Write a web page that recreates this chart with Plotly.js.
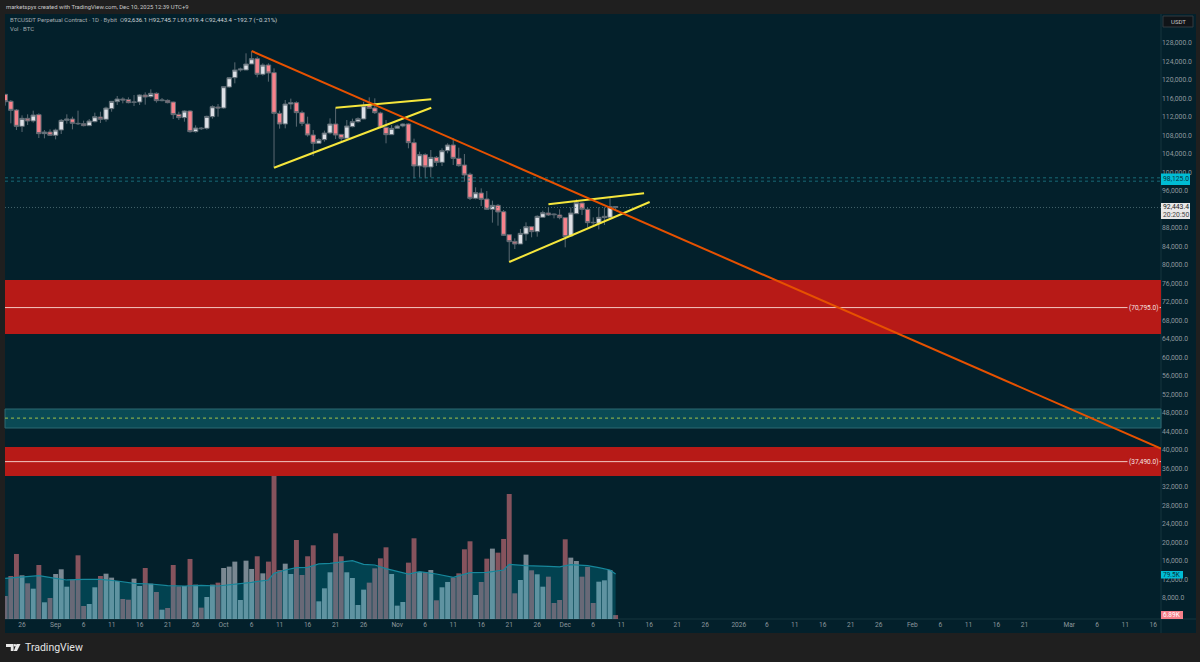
<!DOCTYPE html>
<html><head><meta charset="utf-8">
<script src="https://cdn.plot.ly/plotly-3.0.1.min.js"></script>
<style>html,body{margin:0;padding:0;background:#1f1f1f}#c{width:1200px;height:662px}</style></head>
<body><div id="c"></div>
<script>
const firstDay = '2025-08-23';
const open = [116900,115400,113510,109980,111710,111140,112510,108400,108760,
 108040,109190,111280,111570,110630,110560,110130,110990,112000,111500,113800,115320,115890,115750,115170,115240,116760,116400,117120,115530,115600,115240,112580,111860,113300,108830,109620,109550,112070,114160,
 113950,118490,120500,122160,122160,123460,124610,121230,123240,121590,112790,110490,114810,115100,112940,110490,108110,106310,107100,108540,110490,108250,107390,109910,110990,111570,114600,113950,112870,109770,108180,
 109550,110060,110490,106450,101410,103860,101190,103280,102200,104720,105950,103060,101620,99610,94420,95570,94270,92040,92900,91530,86560,85120,84540,86700,88290,87210,90310,91250,91030,90810,
 90240,86270,91100,93410,92040,89230,89010,90240,90310,92636.1];
const high = [116900,115680,113730,112360,112580,113370,112790,109190,109330,
 109480,111570,112580,112070,113370,111210,111570,112940,113150,114230,115390,116540,116250,116250,116760,116900,117330,117980,117330,116110,115820,115320,113150,113440,113440,110200,109840,112290,114520,114810,
 118700,120650,123820,122670,125770,126200,125050,123600,123600,122520,113370,115680,115970,115390,113370,112070,109190,107390,109050,111710,114020,108250,111350,111640,111930,115310,116250,116040,113150,111350,110270,
 110340,110630,110630,107320,104510,104150,104870,103570,105230,106310,107390,105370,104000,99970,96800,96580,96000,93910,93190,91890,86560,85770,87790,89230,88440,90740,91750,92470,91170,92040,
 90310,92470,94200,93480,92470,90310,92470,92470,94420,92745.7];
const low = [114450,110630,109190,108760,110270,110780,107460,107390,107890,
 107170,108320,110560,109330,110270,109980,110050,110850,110700,110990,113150,114600,114950,114950,114380,114600,114670,116180,115100,115390,114950,111560,111350,110990,108610,108610,109190,109260,111640,112070,
 113800,118340,119280,121800,122160,123460,120580,120940,119640,101050,109480,109550,113660,109910,110060,107750,103570,106160,106670,108250,107240,106810,107170,109770,110780,111500,113870,112650,109550,106310,108110,
 109410,109770,105230,98740,98960,98740,98960,101410,101410,104150,101620,101260,98020,94060,94200,92760,91890,89160,88510,86270,80720,83460,84540,85260,85990,86130,90240,90600,90090,89880,
 83820,86130,91030,90810,88150,88290,87710,88650,89880,91919.4];
const close = [115300,113440,109980,111710,111140,112430,108400,108760,108040,
 109190,111280,111570,110630,110560,110130,111140,112070,111500,113950,115390,115890,115680,115100,115240,116760,116320,117120,115530,115680,115100,112510,111860,113300,108830,109620,109480,112140,114230,113950,
 118560,120500,122160,122380,123460,124610,121230,123240,121510,112790,110490,114810,115100,112940,110630,108110,106310,107100,108540,110490,108110,107390,110060,110990,111640,114450,113870,112940,109770,108180,109550,
 110060,110490,106450,101410,103860,101190,103280,102200,104720,105950,103060,101480,99460,94420,95640,94200,92040,92900,91460,86420,85050,84540,86850,88290,87210,90530,91320,90810,90890,90240,
 86130,91250,93480,92040,89160,89160,90310,90530,92630,92443.4];
const volume = [40.5,75.7,114.5,76.9,62.8,53.4,95.1,29.4,37.0,
 79.2,87.5,56.9,69.3,112.1,22.9,26.4,55.8,75.7,79.8,72.8,66.9,35.2,34.0,71.0,58.1,89.8,62.2,47.5,16.4,19.4,95.1,57.5,58.1,105.7,60.5,20.0,38.7,60.5,64.0,
 89.8,92.2,101.0,33.5,102.7,88.1,110.4,80.4,101.0,260,86.3,97.4,79.2,139.1,77.5,110.4,129.7,31.1,54.0,82.2,150.9,110.4,82.2,72.2,24.7,51.7,64.0,89.2,106.8,126.2,79.2,
 23.5,29.9,99.2,142.1,82.8,82.8,86.3,32.9,55.8,65.2,72.8,80.4,122.7,136.8,42.3,65.2,106.2,123.9,116.8,140.9,220.1,45.2,68.7,113.3,85.7,78.7,56.9,74.5,28.2,33.5,
 140.3,108.0,102.1,74.5,91.6,28.2,65.7,68.1,86.3,6.89];
const maDates = ['2025-08-23','2025-08-26','2025-08-29','2025-09-01','2025-09-03','2025-09-06','2025-09-09','2025-09-12','2025-09-15','2025-09-18','2025-09-21','2025-09-24','2025-09-27','2025-09-30','2025-10-03','2025-10-06','2025-10-09','2025-10-10','2025-10-12','2025-10-14','2025-10-16','2025-10-18','2025-10-20','2025-10-22','2025-10-24','2025-10-26','2025-10-28','2025-10-30','2025-11-03','2025-11-05','2025-11-08','2025-11-11','2025-11-14','2025-11-17','2025-11-20','2025-11-21','2025-11-24','2025-11-28','2025-11-30','2025-12-02','2025-12-05','2025-12-07','2025-12-09','2025-12-10'];
const maValues = [71.6,74.5,76.3,71.6,68.7,69.9,69.9,66.9,62.8,61.6,58.7,58.1,59.3,58.1,61.0,64.6,68.7,80.4,86.3,90.4,91.0,96.9,98.0,101.0,102.7,96.3,95.1,88.6,79.2,83.4,79.2,73.4,81.6,82.2,86.3,96.3,93.9,92.7,91.6,95.7,93.9,90.4,86.3,79.2];
const priceTicks = [128000,124000,120000,116000,112000,108000,104000,100000,96000,88000,84000,80000,76000,72000,68000,64000,60000,56000,52000,48000,44000,40000,36000,32000,28000,24000,20000,16000,12000,8000];
const dateTicks = ['2025-08-26','2025-09-01','2025-09-06','2025-09-11','2025-09-16','2025-09-21','2025-09-26','2025-10-01','2025-10-06','2025-10-11','2025-10-16','2025-10-21','2025-10-26','2025-11-01','2025-11-06','2025-11-11','2025-11-16','2025-11-21','2025-11-26','2025-12-01','2025-12-06','2025-12-11','2025-12-16','2025-12-21','2025-12-26','2026-01-01','2026-01-06','2026-01-11','2026-01-16','2026-01-21','2026-01-26','2026-02-01','2026-02-06','2026-02-11','2026-02-16','2026-02-21','2026-03-01','2026-03-06','2026-03-11','2026-03-16'];
const dateLabels = ['26','Sep','6','11','16','21','26','Oct','6','11','16','21','26','Nov','6','11','16','21','26','Dec','6','11','16','21','26','2026','6','11','16','21','26','Feb','6','11','16','21','Mar','6','11','16'];
const redZones = [[76760,65085],[40655,34385]];
const tealZone = [48870,44760];
const redLevels = [70795,37490];
const redLevelLabels = ['(70,795.0)','(37,490.0)'];
const greenLevel = 46900;
const cyanLevels = [98850,98125];
const lastPrice = 92443.4;
const orangeLine = {x:['2025-10-06','2026-03-17 09:30'],y:[126270,40300]};
const yellowLines = [
 {x:['2025-10-10','2025-11-07 02:00'],y:[101040,114010]},
 {x:['2025-10-21','2025-11-07 02:00'],y:[114010,115830]},
 {x:['2025-11-21','2025-12-16 02:00'],y:[80650,93620]},
 {x:['2025-11-28','2025-12-15 02:00'],y:[93130,95500]}
];
const xRange = ['2025-08-22 23:00','2026-03-17 09:30'];
const yRange = [3469,134270];
const volRange = [0,1065];
const barWidthDays = 0.88;

const dates = open.map((_,i)=>new Date(Date.parse(firstDay+'T00:00:00Z')+i*864e5).toISOString().slice(0,10));
const L=5,R=1161,T=14,B=619;
const px=v=>(v-L)/(R-L), py=v=>1-(v-T)/(B-T);
const BG='#03202b', RED='#b71a17', FONT='Roboto, "Liberation Sans", sans-serif';
const lineShape=(o,color,width,dash)=>({type:'line',xref:'x',yref:'y',layer:'above',x0:o.x[0],x1:o.x[1],y0:o.y[0],y1:o.y[1],line:{color,width,dash:dash||'solid'}});
const hLine=(p,color,width,dash)=>lineShape({x:xRange,y:[p,p]},color,width,dash);
const zone=(z,color,lc)=>({type:'rect',xref:'paper',yref:'y',layer:'above',x0:0,x1:1,y0:z[0],y1:z[1],fillcolor:color,line:{width:lc?1:0,color:lc||color}});
const box=(x0,y0,x1,y1,fill,lc)=>({type:'rect',xref:'paper',yref:'paper',layer:'above',x0:px(x0),x1:px(x1),y0:py(y0),y1:py(y1),fillcolor:fill,line:{width:lc?1:0,color:lc||fill}});
const label=(x,y,text,size,color,anchor,extra)=>Object.assign({xref:'paper',yref:'paper',x:px(x),y:py(y),text,showarrow:false,xanchor:anchor||'left',yanchor:'middle',align:anchor||'left',font:{family:FONT,size,color},borderpad:0},extra||{});

const logoT=`M ${px(6)} ${py(644)} L ${px(13.6)} ${py(644)} L ${px(13.6)} ${py(651)} L ${px(10.8)} ${py(651)} L ${px(10.8)} ${py(647)} L ${px(6)} ${py(647)} Z`;
const logoV=`M ${px(16.5)} ${py(644)} L ${px(20.5)} ${py(644)} L ${px(17)} ${py(651)} L ${px(13.8)} ${py(651)} Z`;

const traces=[
 {type:'bar',x:dates,y:volume,width:barWidthDays*864e5,yaxis:'y2',marker:{color:close.map((c,i)=>c>=open[i]?'rgba(209,212,220,0.58)':'rgba(242,125,135,0.55)'),line:{width:0}},hoverinfo:'skip'},
 {type:'scatter',mode:'lines',x:maDates,y:maValues,yaxis:'y2',fill:'tozeroy',fillcolor:'rgba(0,188,212,0.22)',line:{color:'#17879b',width:1.2},hoverinfo:'skip'},
 {type:'candlestick',x:dates,open,high,low,close,yaxis:'y',whiskerwidth:0,
  increasing:{line:{color:'#5b6972',width:1},fillcolor:'#dde0e6'},
  decreasing:{line:{color:'#5b6972',width:1},fillcolor:'#f7828c'},hoverinfo:'skip'}
];
const shapes=[
 {type:'rect',xref:'paper',yref:'paper',layer:'below',x0:0,x1:px(1196),y0:py(633),y1:1,fillcolor:BG,line:{width:0}},
 {type:'line',xref:'paper',yref:'paper',layer:'below',x0:1,x1:1,y0:py(633),y1:1,line:{color:'#17343f',width:1}},
 {type:'line',xref:'paper',yref:'paper',layer:'below',x0:0,x1:px(1196),y0:0,y1:0,line:{color:'#17343f',width:1}},
 zone(redZones[0],RED), zone(redZones[1],RED),
 zone(tealZone,'#0a4a55','#2c6872'),
 hLine(redLevels[0],'#f3c9c4',1), hLine(redLevels[1],'#f3c9c4',1),
 hLine(greenLevel,'#a3c14a',1,'3px,3px'),
 hLine(cyanLevels[0],'#1d7e8c',0.8,'3px,3px'),
 hLine(cyanLevels[1],'#1d7e8c',0.8,'3px,3px'),
 hLine(lastPrice,'#56757c',0.8,'1px,2px'),
 ...yellowLines.map(o=>lineShape(o,'#f5e63c',2)),
 lineShape(orangeLine,'#e65100',2),
 box(1163,16,1193,27,'#101418','#333a40'),
 box(1161,173.5,1190,185,'#00bcd4'),
 box(1161,203,1190,219,'#e8e8e8'),
 box(1161,571,1183,578.5,'#00bcd4'),
 box(1161,611,1183,619,'#f7808a'),
 {type:'path',xref:'paper',yref:'paper',layer:'above',path:logoT,fillcolor:'#e8e8e8',line:{width:0}},
 {type:'path',xref:'paper',yref:'paper',layer:'above',path:logoV,fillcolor:'#e8e8e8',line:{width:0}},
 {type:'circle',xref:'paper',yref:'paper',layer:'above',x0:px(13.7),x1:px(16.1),y0:py(644),y1:py(646.4),fillcolor:'#e8e8e8',line:{width:0}}
];
const dim='#8d979d', legendDim='#a3abb0', bright='#d0d6da';
const v=s=>`<span style="color:${bright}">${s}</span>`;
const annotations=[
 label(5,7,'marketspyx created with TradingView.com, Dec 10, 2025 12:39 UTC+9',5.9,'#c9c9c9'),
 label(9,20,`BTCUSDT Perpetual Contract · 1D · Bybit  O${v('92,636.1')} H${v('92,745.7')} L${v('91,919.4')} C${v('92,443.4')} ${v('−192.7 (−0.21%)')}`,6,legendDim),
 label(9,28.7,'Vol · BTC',6,legendDim),
 label(1178,21.5,'USDT',6,'#c8c8c8','center'),
 label(1175.5,179.5,'98,125.0',6.8,'#08323c','center'),
 label(1175.5,207,'92,443.4',6.8,'#222','center'),
 label(1175.5,215,'20:20:50',6.8,'#444','center'),
 label(1172,574.8,'79.5K',6.5,'#08323c','center'),
 label(1172,615,'6.89K',6.5,'#fff','center'),
 {xref:'x',yref:'y',x:'2026-03-14 08:00',y:redLevels[0],text:redLevelLabels[0],showarrow:false,font:{family:FONT,size:6.5,color:'#f6e4e2'},bgcolor:RED,borderpad:1},
 {xref:'x',yref:'y',x:'2026-03-14 08:00',y:redLevels[1],text:redLevelLabels[1],showarrow:false,font:{family:FONT,size:6.5,color:'#f6e4e2'},bgcolor:RED,borderpad:1},
 label(24,647.5,'TradingView',10.5,'#e4e4e4')
];
const layout={
 width:1200,height:662,autosize:false,showlegend:false,dragmode:false,
 margin:{l:L,r:1200-R,t:T,b:662-B,pad:0},
 paper_bgcolor:'#1f1f1f',plot_bgcolor:BG,boxmode:'overlay',boxgap:0.2,boxgroupgap:0,
 font:{family:FONT,size:6.8,color:dim},
 xaxis:{type:'date',range:xRange,rangeslider:{visible:false},tickmode:'array',tickvals:dateTicks,ticktext:dateLabels,tickangle:0,tickfont:{family:FONT,size:6.6,color:dim},showgrid:false,zeroline:false,ticks:'',showline:false},
 yaxis:{range:yRange,side:'right',tickmode:'array',tickvals:priceTicks,tickformat:',.1f',tickfont:{family:FONT,size:6.8,color:dim},showgrid:false,zeroline:false,ticks:'',showline:false,ticklabelposition:'outside'},
 yaxis2:{range:volRange,overlaying:'y',side:'left',visible:false,showgrid:false,zeroline:false},
 shapes,annotations
};
Plotly.newPlot('c',traces,layout,{displayModeBar:false,staticPlot:true});
</script></body></html>
